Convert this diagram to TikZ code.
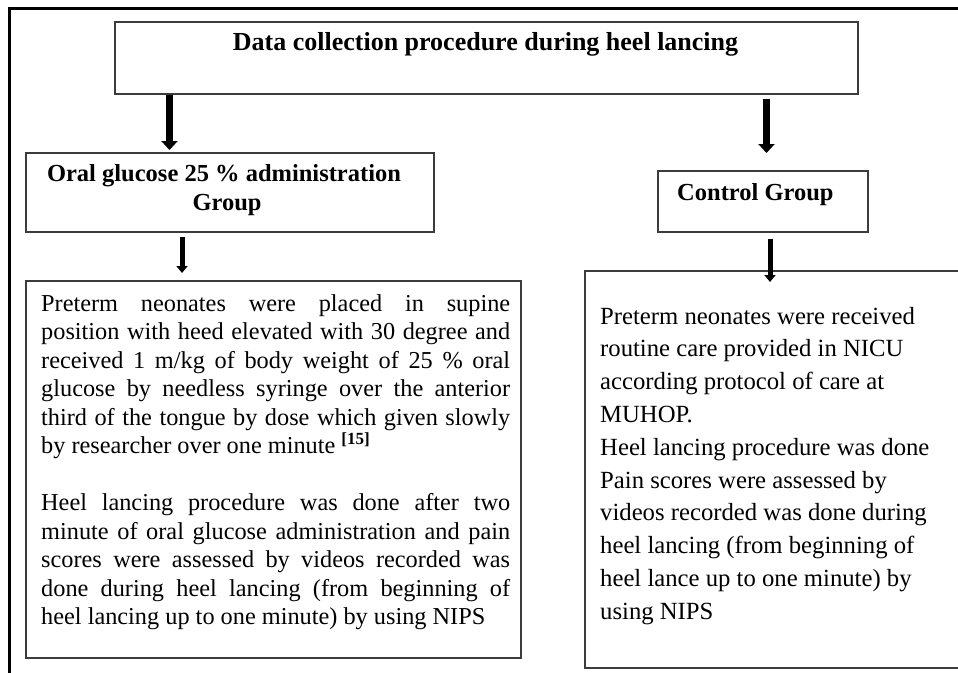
\documentclass[tikz,border=0pt]{standalone}
\usepackage{fontspec}
\setmainfont{Liberation Serif}
\usetikzlibrary{arrows.meta}
\definecolor{boxgray}{RGB}{60,60,60}
\begin{document}
\begin{tikzpicture}[x=1pt,y=-1pt,
  box/.style={draw=boxgray, line width=1.5pt, rectangle, inner sep=0pt, anchor=north west},
  bigarrow/.style={line width=7pt, -{Triangle[width=16pt,length=9pt]}},
  smallarrow/.style={line width=5pt, -{Triangle[width=11pt,length=7pt]}},
  lefttxt/.style={anchor=base west, inner sep=0pt, font=\fontsize{24.3}{28}\selectfont},
  righttxt/.style={anchor=base west, inner sep=0pt, font=\fontsize{24.7}{30}\selectfont},
  headtxt/.style={inner sep=0pt, font=\fontsize{24.5}{28}\selectfont\bfseries}
]
\useasboundingbox (0,0) rectangle (958,672);
\clip (0,0) rectangle (958,672);
\fill[white] (0,0) rectangle (958,672);
% outer frame (runs off the right and bottom edges)
\draw[line width=3pt] (9,8) rectangle (1000,720);

% boxes
\node[box, minimum width=743pt, minimum height=72pt] (title) at (114,21) {};
\node[box, minimum width=408pt, minimum height=79pt] (g1) at (25,152) {};
\node[box, minimum width=210pt, minimum height=61pt] (ctrl) at (657,170) {};
\node[box, minimum width=495pt, minimum height=377pt] (d1) at (25,280) {};
\node[box, minimum width=391pt, minimum height=397pt] (d2) at (584,270) {};

% headings
\node[anchor=base, inner sep=0pt, font=\fontsize{26}{30}\selectfont\bfseries] (ttl) at (485.5,50) {Data collection procedure during heel lancing};
\node[headtxt, anchor=base] (g1a) at (224,181.5) {Oral glucose 25 \% administration};
\node[headtxt, anchor=base] (g1b) at (227,210) {Group};
\node[headtxt, anchor=base west] (ctxt) at (677,200) {Control Group};

% arrows
\coordinate (c1) at (169.5,0);
\coordinate (c2) at (766.5,0);
\coordinate (c3) at (182,0);
\coordinate (c4) at (770,0);
\draw[bigarrow, shorten >=2pt] (title.south -| c1) -- (g1.north -| c1);
\draw[bigarrow, shorten <=4pt, shorten >=17pt] (title.south -| c2) -- (ctrl.north -| c2);
\draw[smallarrow, shorten <=4pt, shorten >=7pt] (g1.south -| c3) -- (d1.north -| c3);
\draw[smallarrow, shorten <=6pt, shorten >=-12pt] (ctrl.south -| c4) -- (d2.north -| c4);

% left detail text
\node[lefttxt] (p1) at (41,311) {\makebox[469pt][s]{Preterm neonates were placed in supine}};
\node[lefttxt] (p2) at (41,339.5) {\makebox[469pt][s]{position with heed elevated with 30 degree and}};
\node[lefttxt] (p3) at (41,368) {\makebox[469pt][s]{received 1 m/kg of body weight of 25 \% oral}};
\node[lefttxt] (p4) at (41,396.5) {\makebox[469pt][s]{glucose by needless syringe over the anterior}};
\node[lefttxt] (p5) at (41,425) {\makebox[469pt][s]{third of the tongue by dose which given slowly}};
\node[lefttxt] (p6) at (41,453.5) {by researcher over one minute \textsuperscript{\bfseries [15]}};
\node[lefttxt] (p7) at (41,510.5) {\makebox[469pt][s]{Heel lancing procedure was done after two}};
\node[lefttxt] (p8) at (41,539) {\makebox[469pt][s]{minute of oral glucose administration and pain}};
\node[lefttxt] (p9) at (41,567.5) {\makebox[469pt][s]{scores were assessed by videos recorded was}};
\node[lefttxt] (p10) at (41,596) {\makebox[469pt][s]{done during heel lancing (from beginning of}};
\node[lefttxt] (p11) at (41,624.5) {heel lancing up to one minute) by using NIPS};

% right detail text
\node[righttxt] (r1) at (600,324) {Preterm neonates were received};
\node[righttxt] (r2) at (600,356.8) {routine care provided in NICU};
\node[righttxt] (r3) at (600,389.6) {according protocol of care at};
\node[righttxt] (r4) at (600,422.4) {MUHOP.};
\node[righttxt] (r5) at (600,455.2) {Heel lancing procedure was done};
\node[righttxt] (r6) at (600,488) {Pain scores were assessed by};
\node[righttxt] (r7) at (600,520.8) {videos recorded was done during};
\node[righttxt] (r8) at (600,553.6) {heel lancing (from beginning of};
\node[righttxt] (r9) at (600,586.4) {heel lance up to one minute) by};
\node[righttxt] (r10) at (600,619.2) {using NIPS};
\end{tikzpicture}
\end{document}
